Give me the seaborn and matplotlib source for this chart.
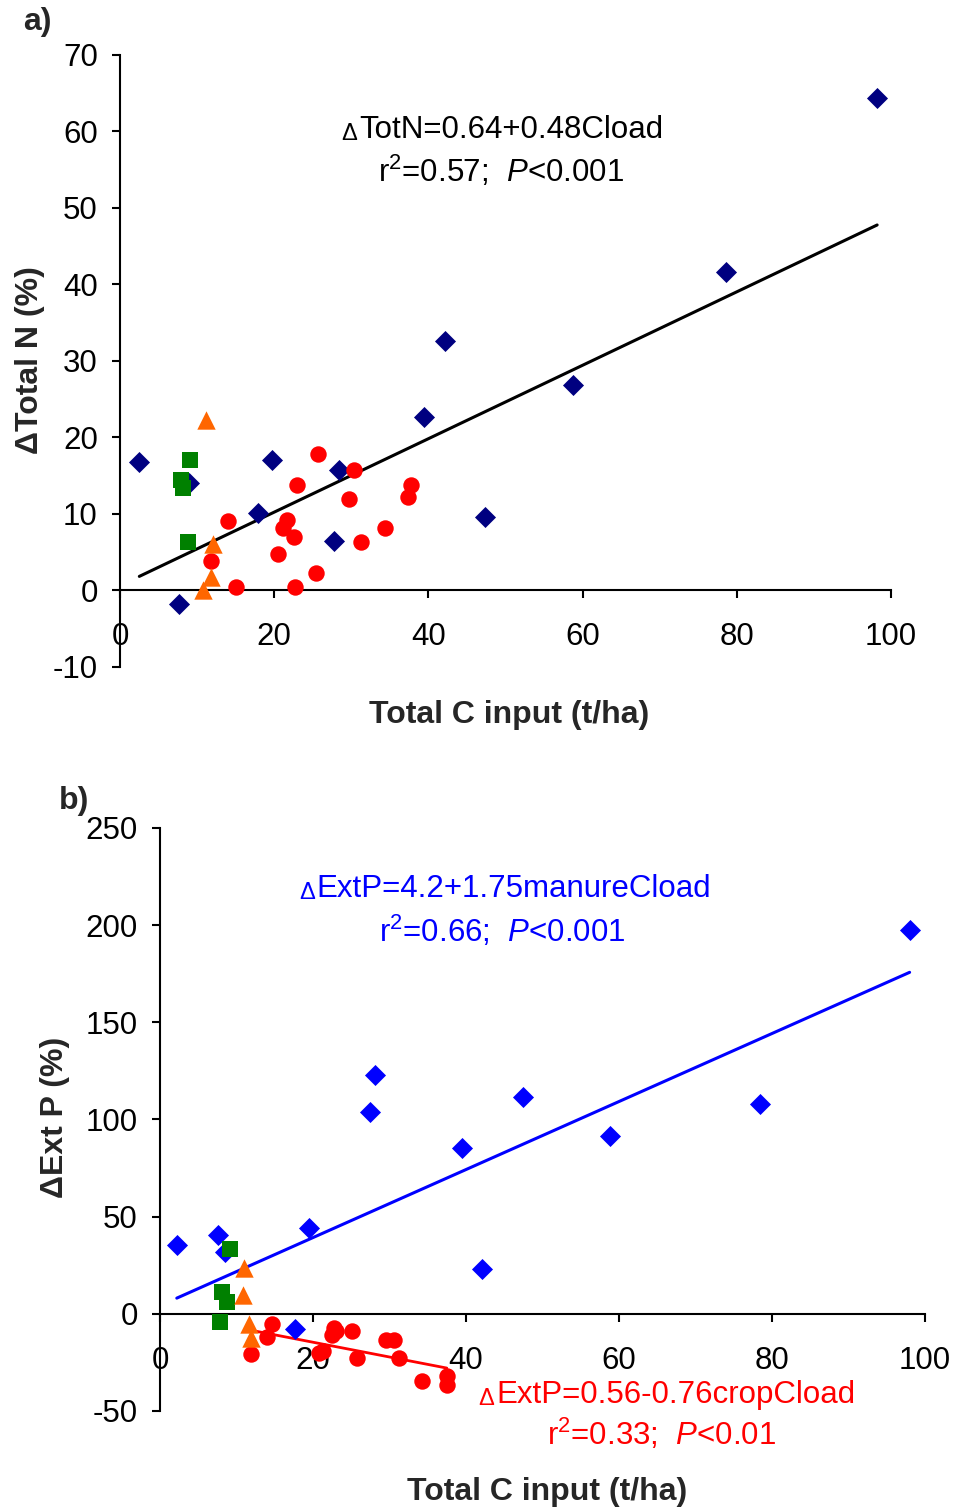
import numpy as np
import pandas as pd
import seaborn as sns
import matplotlib.pyplot as plt

# ---- panel a: change in total N vs total C input ----
a_manure_x = [2.5, 8.9, 7.7, 17.9, 19.7, 27.7, 28.4, 39.4, 42.2, 47.4, 58.8, 78.6, 98.2]
a_manure_y = [16.8, 14.0, -1.8, 10.1, 17.0, 6.5, 15.8, 22.7, 32.6, 9.6, 26.8, 41.6, 64.4]
a_crop_x = [11.8, 14.0, 15.0, 20.5, 21.1, 21.7, 22.6, 22.7, 23.0, 25.4, 25.7, 29.7, 30.4, 31.3, 34.4, 37.4, 37.7]
a_crop_y = [3.8, 9.1, 0.4, 4.8, 8.2, 9.2, 7.0, 0.4, 13.8, 2.3, 17.8, 11.9, 15.7, 6.4, 8.2, 12.2, 13.8]
a_square_x = [9.1, 7.9, 8.2, 8.8]
a_square_y = [17.0, 14.5, 13.4, 6.3]
a_tri_x = [11.1, 12.0, 11.8, 10.8]
a_tri_y = [22.3, 6.1, 1.7, 0.1]
a_fit = (0.64, 0.48)

# ---- panel b: change in extractable P vs total C input ----
b_manure_x = [2.2, 7.6, 8.5, 17.7, 19.5, 27.5, 28.1, 39.5, 42.1, 47.5, 58.8, 78.4, 98.0]
b_manure_y = [35.5, 40.6, 32.0, -7.9, 44.1, 103.9, 122.8, 85.2, 23.0, 111.5, 91.6, 108.0, 197.5]
b_crop_x = [11.9, 14.0, 14.7, 20.8, 21.3, 22.5, 22.7, 23.0, 25.1, 25.8, 29.6, 30.6, 31.2, 34.3, 37.5, 37.5]
b_crop_y = [-20.9, -12.2, -5.1, -20.2, -19.0, -10.8, -7.4, -9.0, -8.7, -22.8, -13.4, -13.7, -22.8, -34.8, -32.2, -36.5]
b_square_x = [9.1, 8.1, 8.7, 7.8]
b_square_y = [33.3, 11.2, 6.2, -4.0]
b_tri_x = [11.0, 10.8, 11.6, 11.9]
b_tri_y = [23.5, 9.8, -5.1, -12.5]
b_manure_fit = (4.2, 1.75)
b_crop_fit = (0.56, -0.76)

sns.set_style("ticks")
plt.rcParams['font.family'] = ['Liberation Sans', 'DejaVu Sans']
plt.rcParams['axes.unicode_minus'] = False
plt.rcParams['mathtext.fontset'] = 'custom'
plt.rcParams['mathtext.rm'] = 'Liberation Sans'
plt.rcParams['mathtext.it'] = 'Liberation Sans:italic'
plt.rcParams['mathtext.bf'] = 'Liberation Sans:bold'

FS = 22.5      # tick / equation text
LFS = 23       # axis labels

fig = plt.figure(figsize=(9.55, 15.1), dpi=100)
ax_a = fig.add_axes([0.1257, 0.5583, 0.8073, 0.4053])
ax_b = fig.add_axes([0.1675, 0.0656, 0.8010, 0.3861])


def style_axes(ax, ylim, yticks):
    ax.set_xlim(0, 100)
    ax.set_ylim(*ylim)
    ax.set_xticks(np.arange(0, 101, 20))
    ax.set_yticks(yticks)
    ax.spines['top'].set_visible(False)
    ax.spines['right'].set_visible(False)
    ax.spines['bottom'].set_position(('data', 0))
    for s in ['left', 'bottom']:
        ax.spines[s].set_linewidth(1.5)
        ax.spines[s].set_color('black')
    ax.tick_params(axis='both', direction='out', length=6, width=1.5,
                   labelsize=FS, colors='black')
    ax.tick_params(axis='x', pad=17)
    ax.tick_params(axis='y', pad=10)


def fit_line(ax, xs, coef, color, lw):
    x0, x1 = min(xs), max(xs)
    lx = [x0, x1]
    ly = [coef[0] + coef[1] * x0, coef[0] + coef[1] * x1]
    sns.lineplot(x=lx, y=ly, color=color, linewidth=lw, ax=ax, zorder=2)


def equation(ax, x, y, body, stats, y2, x2, color):
    t = ax.text(x, y, body, ha='center', va='baseline', fontsize=FS, color=color)
    ax.annotate('Δ', xy=(0, 0), xycoords=t, xytext=(-1, 0),
                textcoords='offset points', ha='right', va='bottom',
                fontsize=17, color=color)
    ax.text(x2, y2, stats, ha='center', va='baseline', fontsize=FS, color=color)


def draw_points(ax, mx, my, mcolor, cx, cy, sx, sy, tx, ty):
    sns.scatterplot(x=mx, y=my, marker='D', s=115, color=mcolor,
                    linewidth=0, ax=ax, zorder=3)
    sns.scatterplot(x=cx, y=cy, marker='o', s=140, color='#FF0000',
                    linewidth=0, ax=ax, zorder=3)
    sns.scatterplot(x=sx, y=sy, marker='s', s=125, color='#008000',
                    linewidth=0, ax=ax, zorder=3)
    sns.scatterplot(x=tx, y=ty, marker='^', s=175, color='#FF6600',
                    linewidth=0, ax=ax, zorder=3)


# panel a
fit_line(ax_a, a_manure_x + a_crop_x, a_fit, 'black', 2.2)
draw_points(ax_a, a_manure_x, a_manure_y, '#000080', a_crop_x, a_crop_y,
            a_square_x, a_square_y, a_tri_x, a_tri_y)
style_axes(ax_a, (-10, 70), np.arange(-10, 71, 10))
equation(ax_a, 50.7, 59.1, 'TotN=0.64+0.48Cload',
         r'r$^{2}$=0.57;  $\it{P}$<0.001', 53.4, 49.4, 'black')
ax_a.set_xlabel('Total C input (t/ha)', fontsize=LFS, fontweight='bold', va='center')
ax_a.xaxis.set_label_coords(0.505, -0.078)
ax_a.set_ylabel('ΔTotal N (%)', fontsize=LFS, fontweight='bold', va='center')
ax_a.yaxis.set_label_coords(-0.1167, 0.5016)

# panel b
fit_line(ax_b, b_manure_x, b_manure_fit, '#0000FF', 2.2)
fit_line(ax_b, b_crop_x, b_crop_fit, '#FF0000', 2.0)
draw_points(ax_b, b_manure_x, b_manure_y, '#0000FF', b_crop_x, b_crop_y,
            b_square_x, b_square_y, b_tri_x, b_tri_y)
style_axes(ax_b, (-50, 250), np.arange(-50, 251, 50))
equation(ax_b, 46.2, 214.7, 'ExtP=4.2+1.75manureCload',
         r'r$^{2}$=0.66;  $\it{P}$<0.001', 191.5, 44.8, '#0000FF')
equation(ax_b, 67.4, -45.9, 'ExtP=0.56-0.76cropCload',
         r'r$^{2}$=0.33;  $\it{P}$<0.01', -67.4, 65.6, '#FF0000')
ax_b.set_xlabel('Total C input (t/ha)', fontsize=LFS, fontweight='bold', va='center')
ax_b.xaxis.set_label_coords(0.5059, -0.139)
ax_b.set_ylabel('ΔExt P (%)', fontsize=LFS, fontweight='bold', va='center')
ax_b.yaxis.set_label_coords(-0.1373, 0.5043)

fig.text(0.0387, 0.9854, 'a)', fontsize=LFS, fontweight='bold', ha='center', va='center')
fig.text(0.0775, 0.4695, 'b)', fontsize=LFS, fontweight='bold', ha='center', va='center')

plt.savefig('out.png', dpi=100)
plt.close()
